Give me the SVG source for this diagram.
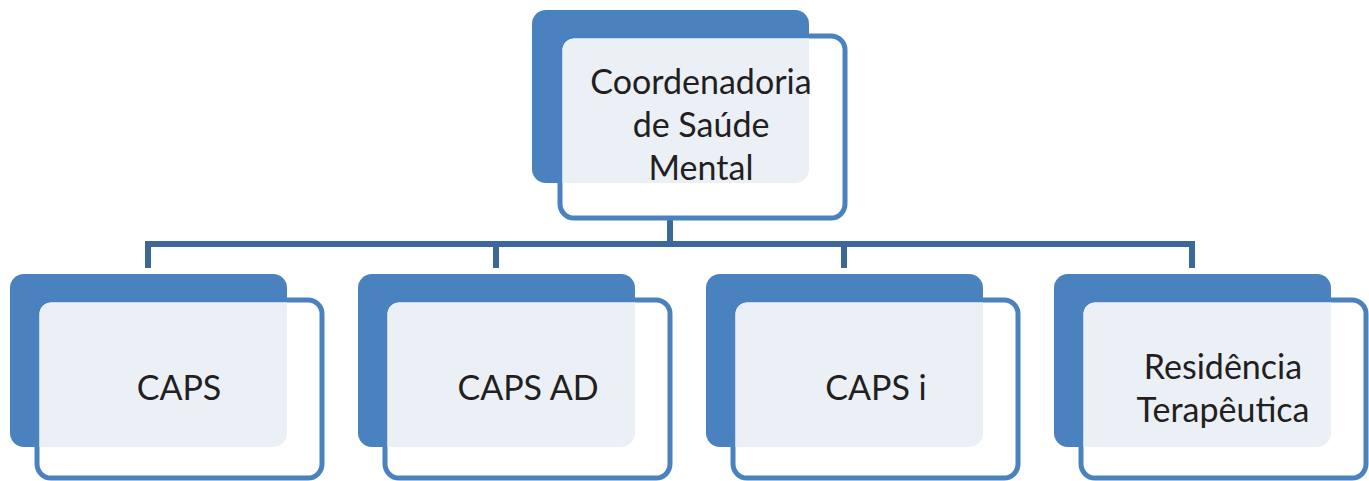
<svg xmlns="http://www.w3.org/2000/svg" width="1369" height="481" viewBox="0 0 1369 481">
<style>
.back{fill:#4A81BF}
.front{fill:#FFFFFF;stroke:#4A81BF;stroke-width:5}
.light{fill:#EBF0F7}
.conn{fill:none;stroke:#3C6899;stroke-width:6}
text{font-family:"Lato","Liberation Sans",sans-serif;font-size:34px;fill:#231F20;text-anchor:middle}
</style>
<rect width="1369" height="481" fill="#FFFFFF"/>
<g id="connectors">
<line x1="670" y1="184" x2="670" y2="216" stroke="#E6ECF3" stroke-width="7"/>
<path class="conn" d="M670 219 V244 M148 268 V244 H1192 V268 M496 244 V268 M844 244 V268"/>
</g>
<g id="node-coordenadoria">
<rect class="back" x="532" y="10" width="277" height="173" rx="14"/>
<rect class="front" x="560" y="36" width="285" height="182" rx="14"/>
<path class="light" d="M574.5 38.5 H809 V169 A14 14 0 0 1 795 183 H562.5 V50.5 A12 12 0 0 1 574.5 38.5 Z"/>
<text x="701" y="94">Coordenadoria</text>
<text x="701" y="137">de Saúde</text>
<text x="701" y="180">Mental</text>
</g>
<g id="node-caps">
<rect class="back" x="10" y="274" width="277" height="173" rx="14"/>
<rect class="front" x="37" y="300" width="285" height="178" rx="14"/>
<path class="light" d="M51.5 302.5 H287 V433 A14 14 0 0 1 273 447 H39.5 V314.5 A12 12 0 0 1 51.5 302.5 Z"/>
<text x="179" y="400">CAPS</text>
</g>
<g id="node-caps-ad">
<rect class="back" x="358" y="274" width="277" height="173" rx="14"/>
<rect class="front" x="385" y="300" width="285" height="178" rx="14"/>
<path class="light" d="M399.5 302.5 H635 V433 A14 14 0 0 1 621 447 H387.5 V314.5 A12 12 0 0 1 399.5 302.5 Z"/>
<text x="528" y="400">CAPS AD</text>
</g>
<g id="node-caps-i">
<rect class="back" x="706" y="274" width="277" height="173" rx="14"/>
<rect class="front" x="733" y="300" width="285" height="178" rx="14"/>
<path class="light" d="M747.5 302.5 H983 V433 A14 14 0 0 1 969 447 H735.5 V314.5 A12 12 0 0 1 747.5 302.5 Z"/>
<text x="876" y="400">CAPS i</text>
</g>
<g id="node-residencia">
<rect class="back" x="1054" y="274" width="277" height="173" rx="14"/>
<rect class="front" x="1081" y="300" width="285" height="178" rx="14"/>
<path class="light" d="M1095.5 302.5 H1331 V433 A14 14 0 0 1 1317 447 H1083.5 V314.5 A12 12 0 0 1 1095.5 302.5 Z"/>
<text x="1223" y="379">Residência</text>
<text x="1223" y="422">Terapêutica</text>
</g>
</svg>
